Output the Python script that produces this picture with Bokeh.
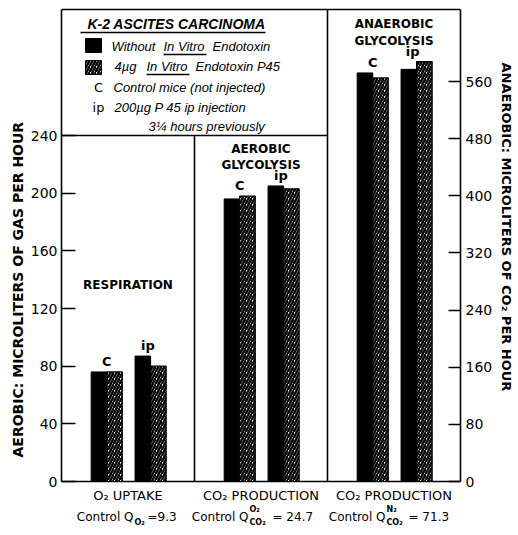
import math
from bokeh.plotting import figure
from bokeh.models import Range1d, LinearAxis, FixedTicker, Label, Title
from bokeh.core.properties import value
from bokeh.embed import file_html
from bokeh.resources import INLINE

# ---------------- data ----------------
categories = ["O₂ UPTAKE", "CO₂ PRODUCTION", "CO₂ PRODUCTION"]
panel_titles = [["RESPIRATION"], ["AEROBIC", "GLYCOLYSIS"], ["ANAEROBIC", "GLYCOLYSIS"]]
groups = ["C", "ip"]
# aerobic panels (left axis): respiration, aerobic glycolysis
without_aerobic = [[76, 87], [196, 205]]
with_aerobic = [[76, 80], [198, 203]]
# anaerobic panel (right axis)
without_anaerobic = [572, 577]
with_anaerobic = [565, 588]
left_ticks = [0, 40, 80, 120, 160, 200, 240]
right_ticks = [0, 80, 160, 240, 320, 400, 480, 560]
control_values = ["=9.3", "= 24.7", "= 71.3"]
control_sup = ["", "O₂", "N₂"]
control_sub = ["O₂", "CO₂", "CO₂"]

# ---------------- layout ----------------
W, H = 518, 535
FL, FR, FT, FB = 61, 460, 9, 481          # chart box in pixels
XU = (FR - FL) / 3.0                       # px per panel
LS = 346 / 240.0                           # px per left unit
RS = 400 / 560.0                           # px per right unit
GROUP_SEP = 0.33
BAR_W = 0.117
INK = "black"


def X(px):
    return (px - FL) / XU


def Y(px):
    return (FB - px) / LS


p = figure(width=W, height=H, output_backend="svg", toolbar_location=None,
           x_range=Range1d(0, 3), y_range=Range1d(Y(H), Y(0)), title=None,
           x_axis_location=None,
           min_border_left=FL, min_border_right=W - FR, min_border_top=0,
           min_border_bottom=0)
p.extra_y_ranges = {"right": Range1d((FB - H) / RS, FB / RS)}
p.xgrid.visible = False
p.ygrid.visible = False
p.outline_line_color = None
p.background_fill_color = "white"
p.border_fill_color = "white"

TICK_FONT = "DejaVu Sans"
LEG = "Liberation Sans"

# left axis
ya = p.yaxis[0]
ya.ticker = FixedTicker(ticks=left_ticks)
ya.bounds = (0, Y(FT))
ya.major_tick_in = 14
ya.major_tick_out = 0
ya.minor_tick_line_color = None
ya.axis_line_color = INK
ya.axis_line_width = 1.6
ya.major_tick_line_color = INK
ya.major_tick_line_width = 1.3
ya.major_label_standoff = 4
ya.major_label_text_font = TICK_FONT
ya.major_label_text_font_size = "14px"
ya.major_label_text_color = INK

# right axis
ra = LinearAxis(y_range_name="right", ticker=FixedTicker(ticks=right_ticks))
ra.bounds = (0, (FB - FT) / RS)
ra.major_tick_in = 12
ra.major_tick_out = 0
ra.minor_tick_line_color = None
ra.axis_line_color = INK
ra.axis_line_width = 1.6
ra.major_tick_line_color = INK
ra.major_tick_line_width = 1.3
ra.major_label_standoff = 5
ra.major_label_text_font = TICK_FONT
ra.major_label_text_font_size = "14px"
ra.major_label_text_color = INK
p.add_layout(ra, "right")

# axis titles as side titles
p.add_layout(Title(text="AEROBIC: MICROLITERS OF GAS PER HOUR", align="left", offset=H - 457,
                   standoff=3, text_font=TICK_FONT, text_font_size="14px",
                   text_font_style="bold", text_color=INK), "left")
p.add_layout(Title(text="ANAEROBIC: MICROLITERS OF CO₂ PER HOUR", align="left", offset=62,
                   standoff=6, text_font=TICK_FONT, text_font_size="13px",
                   text_font_style="bold", text_color=INK), "right")

# box lines: top, bottom, panel dividers, legend box bottom
p.segment(x0=[0, 0, 1, 2, 0], y0=[Y(FT), 0, 0, 0, 240], x1=[3, 3, 1, 2, 2],
          y1=[Y(FT), 0, 240, Y(FT), 240], line_color=INK, line_width=1.6)


def group_center(i, j):
    return i + 0.505 + (j - 0.5) * GROUP_SEP


HATCH = dict(hatch_pattern="/", hatch_color=INK, hatch_scale=6, hatch_weight=2.4)

# bars, aerobic panels
bx_black, bt_black, bx_hat, bt_hat = [], [], [], []
for i in range(2):
    for j in range(2):
        gc = group_center(i, j)
        bx_black.append(gc - BAR_W / 2)
        bt_black.append(without_aerobic[i][j])
        bx_hat.append(gc + BAR_W / 2)
        bt_hat.append(with_aerobic[i][j])
p.vbar(x=bx_black, top=bt_black, bottom=0, width=BAR_W, fill_color=INK, line_color=INK)
p.vbar(x=bx_hat, top=bt_hat, bottom=0, width=BAR_W, fill_color="white", line_color=INK,
       line_width=1.2, **HATCH)

# bars, anaerobic panel
ax_black = [group_center(2, j) - BAR_W / 2 for j in range(2)]
ax_hat = [group_center(2, j) + BAR_W / 2 for j in range(2)]
p.vbar(x=ax_black, top=without_anaerobic, bottom=0, width=BAR_W, fill_color=INK,
       line_color=INK, y_range_name="right")
p.vbar(x=ax_hat, top=with_anaerobic, bottom=0, width=BAR_W, fill_color="white", line_color=INK,
       line_width=1.2, y_range_name="right", **HATCH)

# bar group labels C / ip
lab_x, lab_y = [], []
for i in range(2):
    for j in range(2):
        lab_x.append(group_center(i, j) - 0.02 * j)
        lab_y.append(max(without_aerobic[i][j], with_aerobic[i][j]))
p.text(x=lab_x, y=lab_y, text=groups * 2, text_align="center", text_baseline="bottom",
       y_offset=-3, text_font=value(TICK_FONT), text_font_size="13px", text_font_style="bold",
       text_color=INK)
p.text(x=[group_center(2, j) - 0.03 * j for j in range(2)],
       y=[max(without_anaerobic[j], with_anaerobic[j]) for j in range(2)],
       text=groups, text_align="center", text_baseline="bottom", y_offset=-3,
       text_font=value(TICK_FONT), text_font_size="13px", text_font_style="bold",
       text_color=INK, y_range_name="right")

# category names under the panels
centers = [i + 0.5 for i in range(3)]
p.text(x=centers, y=[Y(495)] * 3, text=categories, text_align="center", text_baseline="middle",
       text_font=value(TICK_FONT), text_font_size="13px", text_color=INK)

# panel titles
title_rows = [[284], [148, 164], [23, 40]]
for i, rows in enumerate(panel_titles):
    for k, t in enumerate(rows):
        p.add_layout(Label(x=i + 0.5, y=Y(title_rows[i][k]), text=t, text_align="center",
                           text_baseline="middle", text_font=TICK_FONT, text_font_size="12px",
                           text_font_style="bold", text_color=INK))

# control Q lines
ctrl_q_end = [133, 248, 385]
ctrl_val_start = [147, 272, 408]
for i in range(3):
    p.add_layout(Label(x=X(ctrl_q_end[i]), y=Y(516), text="Control Q", text_align="right",
                       text_baseline="middle", text_font=TICK_FONT, text_font_size="12px",
                       text_color=INK))
    if control_sup[i]:
        p.add_layout(Label(x=X(ctrl_q_end[i] + 1), y=Y(509), text=control_sup[i], text_align="left",
                           text_baseline="middle", text_font=TICK_FONT, text_font_size="8px",
                           text_font_style="bold", text_color=INK))
    p.add_layout(Label(x=X(ctrl_q_end[i] + 1), y=Y(522), text=control_sub[i], text_align="left",
                       text_baseline="middle", text_font=TICK_FONT, text_font_size="8px",
                       text_font_style="bold", text_color=INK))
    p.add_layout(Label(x=X(ctrl_val_start[i]), y=Y(516), text=control_values[i], text_align="left",
                       text_baseline="middle", text_font=TICK_FONT, text_font_size="12px",
                       text_color=INK))

# ---------------- legend box ----------------
p.add_layout(Label(x=X(176), y=Y(23), text="K-2 ASCITES CARCINOMA", text_align="center",
                   text_baseline="middle", text_font=LEG, text_font_size="14px",
                   text_font_style="bold italic", text_color=INK))
p.segment(x0=[X(80), X(163), X(146)], y0=[Y(32), Y(54), Y(74)],
          x1=[X(265), X(206), X(189)], y1=[Y(32), Y(54), Y(74)],
          line_color=INK, line_width=1.3)
p.quad(left=[X(85)], right=[X(101)], top=[Y(38)], bottom=[Y(52)], fill_color=INK,
       line_color=INK)
p.quad(left=[X(85)], right=[X(101)], top=[Y(60)], bottom=[Y(74)], fill_color="white",
       line_color=INK, **HATCH)

legend_pieces = [
    (111, 46, "Without"), (163, 46, "In Vitro"), (212, 46, "Endotoxin"),
    (114, 66, "4µg"), (146, 66, "In Vitro"), (195, 66, "Endotoxin P45"),
    (113, 87, "Control mice (not injected)"),
    (114, 107, "200µg P 45 ip injection"),
    (148, 126, "3¼ hours previously"),
]
for x_px, y_px, t in legend_pieces:
    p.add_layout(Label(x=X(x_px), y=Y(y_px), text=t, text_align="left", text_baseline="middle",
                       text_font=LEG, text_font_size="13px", text_font_style="italic",
                       text_color=INK))
for x_px, y_px, t in [(98, 87, "C"), (98, 107, "ip")]:
    p.add_layout(Label(x=X(x_px), y=Y(y_px), text=t, text_align="center", text_baseline="middle",
                       text_font=TICK_FONT, text_font_size="13px", text_color=INK))

open("out.html", "w").write(file_html(p, INLINE))
